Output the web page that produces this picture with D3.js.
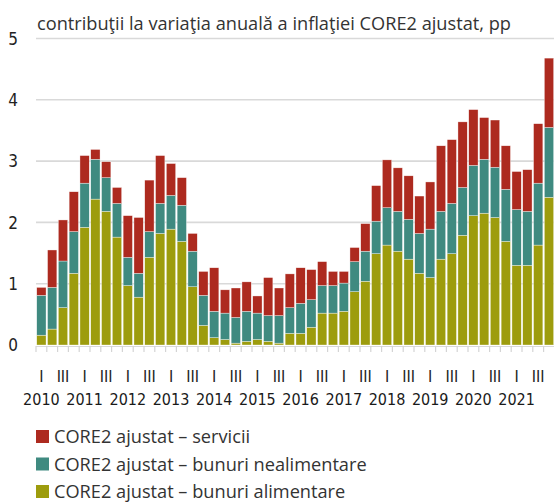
<!DOCTYPE html>
<html>
<head>
<meta charset="utf-8">
<script src="https://cdn.jsdelivr.net/npm/d3@7"></script>
<style>
  body { margin: 0; background: #fff; }
  svg { display: block; }
</style>
</head>
<body>
<svg id="chart" width="554" height="502"></svg>
<script>
// quarters 2010Q1 .. 2021Q4
var years = ['2010','2011','2012','2013','2014','2015','2016','2017','2018','2019','2020','2021'];
var quarterLabels = ['I', '', 'III', ''];
var quarters = [];
years.forEach(function(y){ for (var q = 1; q <= 4; q++) quarters.push(y + 'Q' + q); });

// contributions, pp
var alimentare = [0.16,0.26,0.61,1.17, 1.92,2.38,2.18,1.76, 0.97,0.78,1.43,1.82, 1.89,1.69,0.95,0.32,
                  0.12,0.09,0.03,0.06, 0.09,0.06,0.03,0.19, 0.19,0.29,0.52,0.52, 0.55,0.87,1.04,1.49,
                  1.63,1.53,1.40,1.17, 1.10,1.40,1.49,1.79, 2.11,2.15,2.08,1.69, 1.30,1.30,1.63,2.41];
var nealimentare = [0.65,0.68,0.76,0.68, 0.72,0.65,0.55,0.55, 0.46,0.39,0.42,0.49, 0.55,0.59,0.58,0.49,
                    0.43,0.43,0.42,0.49, 0.43,0.42,0.45,0.42, 0.49,0.45,0.45,0.45, 0.46,0.49,0.49,0.53,
                    0.61,0.65,0.65,0.65, 0.79,0.78,0.82,0.78, 0.82,0.88,0.82,0.85, 0.91,0.88,1.01,1.14];
var servicii = [0.13,0.61,0.67,0.65, 0.45,0.16,0.26,0.26, 0.68,0.91,0.84,0.78, 0.52,0.45,0.29,0.39,
                0.71,0.38,0.48,0.48, 0.28,0.62,0.45,0.55, 0.58,0.49,0.39,0.23, 0.19,0.23,0.45,0.58,
                0.78,0.71,0.71,0.61, 0.77,1.07,1.04,1.07, 0.91,0.68,0.77,0.71, 0.62,0.68,0.97,1.13];

var seriesKeys = ['alimentare', 'nealimentare', 'servicii'];
var seriesNames = {
  servicii: 'CORE2 ajustat \u2013 servicii',
  nealimentare: 'CORE2 ajustat \u2013 bunuri nealimentare',
  alimentare: 'CORE2 ajustat \u2013 bunuri alimentare'
};
var yTicks = [0, 1, 2, 3, 4, 5];

var color = d3.scaleOrdinal()
  .domain(seriesKeys)
  .range(['#9d9c0d', '#3f8a80', '#ad2a1f']);

var table = quarters.map(function(q, i){
  return { q: q, alimentare: alimentare[i], nealimentare: nealimentare[i], servicii: servicii[i] };
});

var svg = d3.select('#chart');
var narrow = '"Liberation Sans Narrow", "DejaVu Sans Condensed", sans-serif';
var plain = '"Open Sans", "Noto Sans", sans-serif';

var x = d3.scaleBand().domain(quarters).range([36, 554.4]).paddingInner(0.14).paddingOuter(0.07);
var y = d3.scaleLinear().domain([0, 5]).range([345, 38.5]);

// gridlines
svg.append('g')
  .selectAll('line')
  .data(yTicks.filter(function(d){ return d > 0; }))
  .join('line')
  .attr('x1', 36).attr('x2', 554)
  .attr('y1', function(d){ return y(d); })
  .attr('y2', function(d){ return y(d); })
  .attr('stroke', '#d9d9d9')
  .attr('stroke-width', 1.6);

// y labels
svg.append('g')
  .selectAll('text')
  .data(yTicks)
  .join('text')
  .attr('x', 13)
  .attr('y', function(d){ return y(d); })
  .attr('dy', '0.36em')
  .attr('text-anchor', 'middle')
  .style('font-family', narrow)
  .style('font-size', '17px')
  .style('fill', '#222')
  .text(function(d){ return d; });

// stacked bars
var stack = d3.stack().keys(seriesKeys)(table);
svg.append('g')
  .selectAll('g')
  .data(stack)
  .join('g')
  .attr('fill', function(d){ return color(d.key); })
  .selectAll('rect')
  .data(function(d){ return d; })
  .join('rect')
  .attr('x', function(d){ return x(d.data.q); })
  .attr('width', x.bandwidth())
  .attr('y', function(d){ return y(d[1]); })
  .attr('height', function(d){ return y(d[0]) - y(d[1]); })
  .attr('stroke', '#fff')
  .attr('stroke-width', 0.5)
  .attr('stroke-opacity', 0.7);

// x axis line and small ticks at bar boundaries
var gx = svg.append('g');
gx.append('line')
  .attr('x1', 36).attr('x2', 554)
  .attr('y1', 346.5).attr('y2', 346.5)
  .attr('stroke', '#d9d9d9').attr('stroke-width', 1.2);
gx.selectAll('line.tk')
  .data(quarters)
  .join('line')
  .attr('class', 'tk')
  .attr('x1', function(d){ return x(d) - x.step() * x.paddingInner() / 2; })
  .attr('x2', function(d){ return x(d) - x.step() * x.paddingInner() / 2; })
  .attr('y1', 346).attr('y2', 352)
  .attr('stroke', '#d4d4d4').attr('stroke-width', 1.2);

// quarter labels
gx.selectAll('text.ql')
  .data(quarters)
  .join('text')
  .attr('class', 'ql')
  .attr('x', function(d){ return x(d) + x.bandwidth() / 2; })
  .attr('y', 382)
  .attr('text-anchor', 'middle')
  .style('font-family', narrow)
  .style('font-size', '16px')
  .style('fill', '#222')
  .text(function(d, i){ return quarterLabels[i % 4]; });

// year labels
gx.selectAll('text.yl')
  .data(years)
  .join('text')
  .attr('class', 'yl')
  .attr('x', function(d){ return x(d + 'Q1') + x.bandwidth() / 2; })
  .attr('y', 405)
  .attr('text-anchor', 'middle')
  .style('font-family', narrow)
  .style('font-size', '16px')
  .style('fill', '#1a1a1a')
  .text(function(d){ return d; });

// title
svg.append('text')
  .attr('x', 37)
  .attr('y', 30)
  .style('font-family', plain)
  .style('font-size', '18.2px')
  .style('fill', '#333')
  .text('contribu\u0163ii la varia\u0163ia anual\u0103 a infla\u0163iei CORE2 ajustat, pp');

// legend
var legendOrder = ['servicii', 'nealimentare', 'alimentare'];
var lg = svg.append('g')
  .selectAll('g')
  .data(legendOrder)
  .join('g')
  .attr('transform', function(d, i){ return 'translate(36,' + (437 + i * 27.5) + ')'; });
lg.append('rect')
  .attr('x', 0).attr('y', -7)
  .attr('width', 13).attr('height', 13)
  .attr('fill', function(d){ return color(d); });
lg.append('text')
  .attr('x', 18)
  .attr('y', 0)
  .attr('dy', '0.35em')
  .style('font-family', plain)
  .style('font-size', '18.2px')
  .style('fill', '#333')
  .text(function(d){ return seriesNames[d]; });
</script>
</body>
</html>
